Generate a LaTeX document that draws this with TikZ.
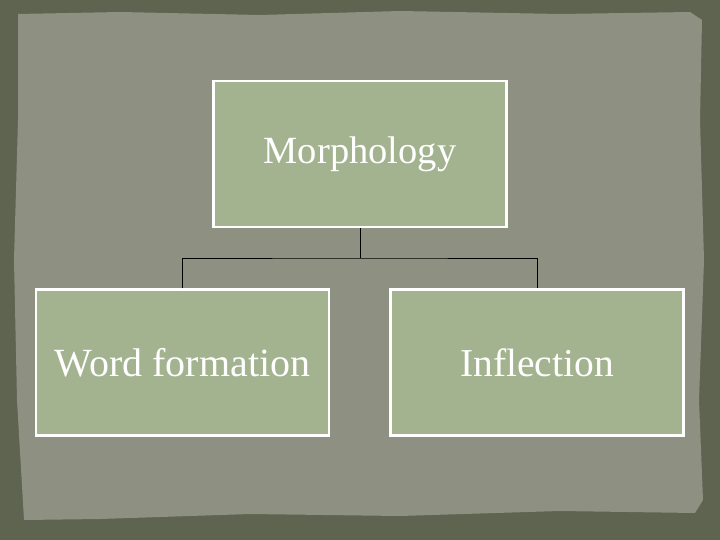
\documentclass[tikz,border=0pt]{standalone}
\usepackage{fontspec}
\setmainfont{Liberation Serif}
\definecolor{outerbg}{HTML}{5F6450}
\definecolor{innerbg}{HTML}{8E9182}
\definecolor{boxfill}{HTML}{A3B28F}
\begin{document}
\begin{tikzpicture}[x=1pt,y=-1pt,
  box/.style={draw=white,line width=2.5pt,fill=boxfill,minimum width=293pt,minimum height=146pt,inner sep=0pt,text=white,font=\fontsize{38.5}{44}\selectfont},
  conn/.style={draw=black,line width=0.8pt}]
\fill[outerbg] (0,0) rectangle (720,540);
\useasboundingbox (0,0) rectangle (720,540);
\fill[innerbg] (18,14) -- (120,12) -- (260,15) -- (400,11) -- (560,14) -- (690,12) -- (702,20)
  -- (700,120) -- (704,260) -- (699,400) -- (703,500) -- (695,513)
  -- (560,511) -- (400,516) -- (250,514) -- (100,519) -- (24,520)
  -- (17,400) -- (14,260) -- (18,120) -- cycle;
\node[box] (m) at (360,154) {Morphology};
\node[box,font=\fontsize{40}{46}\selectfont] (w) at (182.5,362.5) {Word formation};
\node[box,font=\fontsize{39.5}{46}\selectfont] (i) at (537,362.5) {Inflection};
\coordinate (j) at (360,258);
\draw[conn] (m.south) -- (j);
\draw[conn] (w.north) |- (j) -| (i.north);
\end{tikzpicture}
\end{document}
